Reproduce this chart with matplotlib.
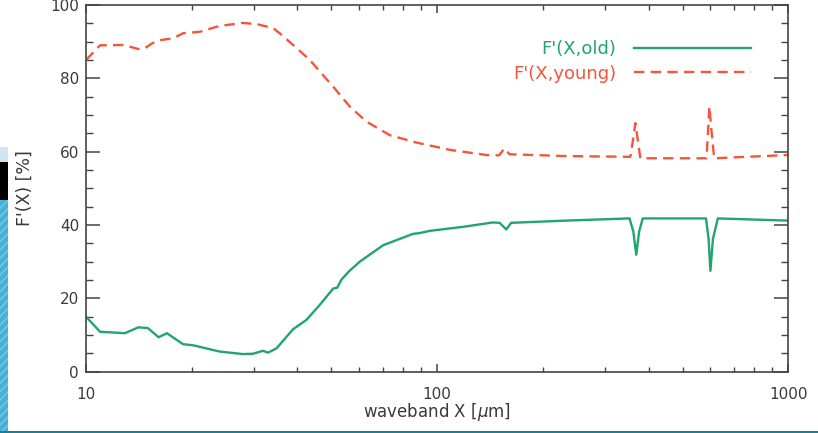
import matplotlib
matplotlib.use("Agg")
import matplotlib.pyplot as plt
from matplotlib.patches import Rectangle

# ---- data ----
old_x = [10, 10.96, 12.9, 14.1, 15.0, 16.1, 17.0, 18.9, 20.2, 24.0, 28.0, 29.9,
         31.9, 33.0, 34.9, 36.0, 38.9, 42.4, 46.3, 50.6, 51.9, 53.4, 56.0, 60.2,
         70.2, 85.4, 89.1, 95.2, 118.4, 144.1, 150.6, 157.3, 162.5, 232.6,
         353, 362, 369, 376, 385, 583, 593, 600, 610, 630, 1000]
old_y = [15.0, 10.9, 10.5, 12.1, 11.9, 9.4, 10.5, 7.5, 7.2, 5.5, 4.8, 4.9,
         5.7, 5.2, 6.4, 7.9, 11.6, 14.1, 18.2, 22.7, 22.9, 25.1, 27.3, 30.0,
         34.5, 37.6, 37.8, 38.4, 39.5, 40.7, 40.6, 38.8, 40.6, 41.2,
         41.8, 38.2, 31.9, 38.2, 41.8, 41.8, 36.2, 27.5, 36.2, 41.8, 41.2]

young_x = [10, 10.96, 12.77, 14.1, 14.6, 15.4, 16.2, 17.7, 18.9, 21.1, 24.0, 28.0,
           30.6, 34.1, 35.6, 38.9, 43.4, 46.3, 50.6, 56.4, 62.9, 73.3, 87.2,
           108.6, 138, 150, 155.6, 160.7, 232.6, 355, 361, 367, 373, 379,
           585, 591, 596, 604, 615, 1000]
young_y = [85.0, 89.0, 89.1, 88.0, 88.0, 89.5, 90.4, 90.9, 92.3, 92.7, 94.3, 95.1,
           94.8, 93.7, 92.3, 89.1, 85.0, 81.9, 77.7, 72.3, 68.2, 64.5, 62.5,
           60.5, 59.1, 59.0, 60.9, 59.3, 58.8, 58.6, 63.0, 67.8, 63.0, 58.2,
           58.2, 66.0, 72.3, 66.0, 58.2, 59.1]

labels = ["F'(X,old)", "F'(X,young)"]
x_ticks = [10, 100, 1000]
x_ticklabels = ["10", "100", "1000"]
x_minor = [20, 30, 40, 50, 60, 70, 80, 90, 200, 300, 400, 500, 600, 700, 800, 900]
y_ticks = [0, 20, 40, 60, 80, 100]
y_minor = list(range(0, 101, 5))

GREEN = "#20a66c"
RED = "#f5553a"
TXT = "#3a3a3a"

plt.rcParams['font.family'] = ['DejaVu Sans']
plt.rcParams['lines.scale_dashes'] = False

fig = plt.figure(figsize=(8.18, 4.33), dpi=100)
fig.patch.set_facecolor("white")

# slide decoration on the left / bottom
H = 433.0
W = 818.0
fig.patches.append(Rectangle((0, 1 - 162 / H), 8 / W, 15 / H, transform=fig.transFigure,
                             facecolor="#cfe6ef", edgecolor="none"))
fig.patches.append(Rectangle((0, 1 - 200 / H), 8 / W, 38 / H, transform=fig.transFigure,
                             facecolor="black", edgecolor="none"))
fig.patches.append(Rectangle((0, 0), 8 / W, 1 - 200 / H, transform=fig.transFigure,
                             facecolor="#45b0d8", edgecolor="#7cc9e6", hatch="////",
                             linewidth=0))
fig.patches.append(Rectangle((0, 0), 1, 2.5 / H, transform=fig.transFigure,
                             facecolor="#1a7f99", edgecolor="none"))

ax = fig.add_axes([86 / W, 1 - 371.7 / H, (788.3 - 86) / W, (371.7 - 5) / H])

ax.plot(old_x, old_y, color=GREEN, lw=1.7, label=labels[0])
ax.plot(young_x, young_y, color=RED, lw=1.7, dashes=(7.5, 4.5), label=labels[1])

ax.set_xscale("log")
ax.set_xlim(10, 1000)
ax.set_ylim(0, 100)
ax.set_xticks(x_ticks)
ax.set_xticklabels(x_ticklabels)
ax.set_xticks(x_minor, minor=True)
ax.set_xticklabels([], minor=True)
ax.set_yticks(y_ticks)
ax.set_yticks(y_minor, minor=True)

ax.tick_params(axis="both", which="both", direction="in", top=True, right=True,
               colors="#444444", labelcolor=TXT, labelsize=11)
ax.tick_params(axis="y", which="major", length=10, width=1.1, pad=5)
ax.tick_params(axis="y", which="minor", length=5, width=1.0)
ax.tick_params(axis="x", which="major", length=6, width=1.1, pad=11)
ax.tick_params(axis="x", which="minor", length=3.8, width=1.0)
for s in ax.spines.values():
    s.set_color("#444444")
    s.set_linewidth(1.2)

ax.set_xlabel(r"waveband X [$\mu$m]", color=TXT, fontsize=12, labelpad=-1)
ax.set_ylabel("F'(X) [%]", color=TXT, fontsize=12.5, labelpad=12)

leg = ax.legend(loc="upper right", bbox_to_anchor=(0.947, 0.904), frameon=False,
                markerfirst=False, handlelength=6.5, handletextpad=0.95,
                labelspacing=0.35, borderpad=0, borderaxespad=0, fontsize=13)
for t, c in zip(leg.get_texts(), [GREEN, RED]):
    t.set_color(c)

fig.savefig("out.png", dpi=100, facecolor="white")
